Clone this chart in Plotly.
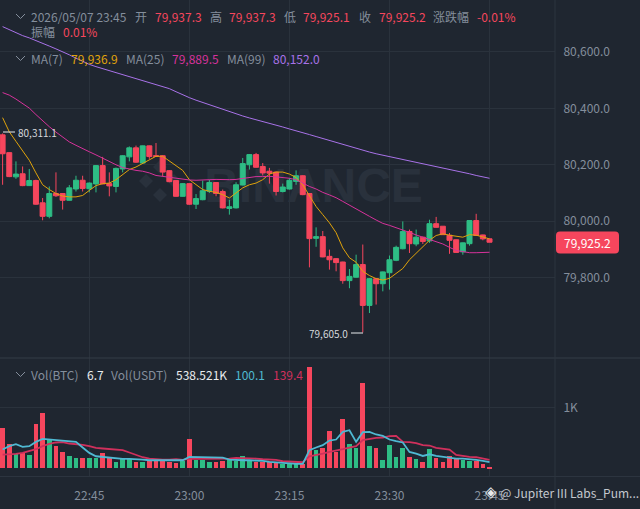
import pandas as pd
import plotly.graph_objects as go

times = pd.date_range('2026-05-07 22:32', periods=74, freq='min')

opens = [80306, 80243, 80157, 80168, 80126, 80144, 80065, 80017, 80098, 80098,
         80074, 80114, 80145, 80115, 80132, 80197, 80133, 80123, 80185, 80228,
         80260, 80206, 80267, 80232, 80232, 80179, 80144, 80088, 80133, 80060,
         80076, 80106, 80137, 80105, 80045, 80047, 80128, 80200, 80236, 80194,
         80177, 80174, 80105, 80114, 80141, 80161, 80098, 79939, 79945, 79875,
         79867, 79855, 79789, 79801, 79846, 79701, 79796, 79778, 79817, 79861,
         79902, 79963, 79919, 79943, 79930, 79991, 79982, 79950, 79934, 79891,
         79920, 80002, 79951, 79937.3]
highs = [80311.1, 80244, 80212, 80194, 80185, 80147, 80082, 80123, 80173, 80099,
         80128, 80161, 80161, 80137, 80198, 80228, 80173, 80190, 80234, 80265,
         80268, 80268, 80268, 80277, 80234, 80181, 80145, 80135, 80135, 80096,
         80144, 80147, 80138, 80112, 80076, 80138, 80224, 80238, 80242, 80206,
         80189, 80175, 80133, 80153, 80180, 80163, 80099, 79978, 79965, 79899,
         79869, 79856, 79830, 79881, 79917, 79798, 79798, 79821, 79878, 79913,
         79999, 79970, 79970, 79945, 80005, 80015, 79982, 79958, 79935, 79924,
         80003, 80026, 79952, 79937.3]
lows = [80129, 80156, 80150, 80124, 80125, 80058, 80003, 80010, 80086, 80041,
        80073, 80105, 80105, 80102, 80102, 80131, 80088, 80102, 80173, 80212,
        80207, 80205, 80221, 80229, 80159, 80138, 80087, 80087, 80058, 80043,
        80074, 80100, 80088, 80045, 80023, 80045, 80127, 80183, 80190, 80162,
        80133, 80091, 80102, 80112, 80129, 80092, 79836, 79909, 79872, 79828,
        79822, 79778, 79762, 79800, 79605, 79674, 79704, 79751, 79757, 79858,
        79900, 79887, 79911, 79919, 79923, 79977, 79951, 79884, 79888, 79881,
        79913, 79948, 79932, 79925.1]
closes = [80239, 80158, 80167, 80126, 80144, 80060, 80017, 80098, 80090, 80074,
          80118, 80145, 80116, 80135, 80197, 80132, 80125, 80187, 80232, 80260,
          80209, 80267, 80229, 80230, 80174, 80140, 80088, 80133, 80060, 80080,
          80108, 80137, 80098, 80047, 80051, 80129, 80204, 80236, 80191, 80171,
          80170, 80105, 80121, 80145, 80161, 80094, 79938, 79945, 79873, 79863,
          79853, 79789, 79804, 79846, 79701, 79796, 79778, 79820, 79863, 79907,
          79963, 79920, 79943, 79928, 79991, 79978, 79952, 79932, 79889, 79923,
          80002, 79949, 79937, 79925.2]

ma7 = [80367, 80317, 80283, 80248, 80216, 80171, 80129, 80112, 80098, 80089,
       80086, 80086, 80091, 80109, 80126, 80133, 80135, 80147, 80165, 80183,
       80192, 80204, 80218, 80230, 80230, 80213, 80194, 80180, 80147, 80129,
       80112, 80106, 80102, 80094, 80082, 80100, 80118, 80129, 80135, 80147,
       80167, 80174, 80174, 80167, 80155, 80129, 80088, 80052, 80023, 79994,
       79959, 79905, 79870, 79854, 79822, 79807, 79796, 79791, 79797, 79813,
       79832, 79863, 79885, 79909, 79932, 79949, 79955, 79950, 79946, 79943,
       79952, 79950, 79944, 79936.9]
ma25 = [80456, 80447, 80433, 80417, 80401, 80378, 80356, 80335, 80316, 80299,
        80281, 80269, 80256, 80246, 80235, 80223, 80210, 80200, 80190, 80184,
        80180, 80177, 80171, 80162, 80159, 80156, 80151, 80148, 80146, 80145,
        80145, 80147, 80148, 80147, 80147, 80148, 80151, 80155, 80158, 80158,
        80159, 80157, 80155, 80152, 80147, 80135, 80123, 80114, 80102, 80093,
        80083, 80070, 80056, 80044, 80031, 80017, 80004, 79992, 79985, 79977,
        79970, 79960, 79951, 79943, 79933, 79926, 79919, 79907, 79896, 79892,
        79888, 79888, 79889, 79889.5]
ma99 = [80690, 80679, 80668, 80658, 80650, 80641, 80631, 80621, 80611, 80601,
        80590, 80578, 80567, 80556, 80548, 80541, 80534, 80527, 80519, 80512,
        80505, 80498, 80491, 80485, 80479, 80470, 80459, 80448, 80438, 80429,
        80421, 80412, 80404, 80395, 80387, 80379, 80373, 80366, 80360, 80354,
        80348, 80341, 80334, 80327, 80321, 80314, 80307, 80300, 80293, 80286,
        80279, 80271, 80264, 80257, 80251, 80245, 80239, 80234, 80229, 80224,
        80219, 80215, 80210, 80205, 80200, 80195, 80190, 80185, 80179, 80173,
        80168, 80162, 80158, 80152]

volume = [656, 408, 243, 260, 215, 727, 904, 463, 364, 264,
          198, 177, 177, 170, 170, 253, 177, 99, 160, 160,
          104, 104, 116, 116, 116, 104, 88, 116, 479, 144,
          144, 104, 99, 121, 132, 121, 198, 121, 104, 104,
          104, 88, 66, 88, 78, 78, 1670, 309, 342, 612,
          269, 805, 408, 326, 1410, 369, 326, 144, 380, 182,
          336, 187, 160, 111, 319, 165, 99, 198, 154, 132,
          121, 121, 71, 25]
vol_ma5 = [309, 364, 397, 352, 364, 435, 484, 474, 463, 451,
           446, 435, 342, 253, 198, 187, 177, 154, 154, 154,
           154, 144, 132, 132, 132, 140, 132, 132, 187, 187,
           182, 182, 182, 177, 144, 132, 132, 132, 132, 121,
           104, 94, 83, 78, 71, 71, 298, 342, 380, 458,
           474, 600, 628, 435, 595, 600, 557, 534, 474, 446,
           425, 269, 243, 203, 231, 203, 187, 165, 160, 160,
           154, 137, 121, 100.1]
vol_ma10 = [226, 226, 236, 253, 281, 314, 364, 402, 425, 430,
            408, 402, 385, 364, 336, 326, 314, 309, 298, 260,
            215, 182, 160, 149, 144, 140, 149, 137, 160, 154,
            154, 149, 149, 154, 160, 170, 170, 160, 160, 149,
            149, 137, 116, 111, 104, 99, 198, 226, 243, 269,
            286, 314, 342, 364, 463, 484, 501, 507, 529, 534,
            435, 430, 413, 380, 375, 336, 319, 309, 220, 198,
            187, 182, 160, 139.4]

price_ticks = [79800, 80000, 80200, 80400, 80600]
time_ticks = ['2026-05-07 22:45', '2026-05-07 23:00', '2026-05-07 23:15',
              '2026-05-07 23:30', '2026-05-07 23:45']

# header rows: (x px, y px, text, colour)
GREY = '#848e9c'
RED = '#f6465d'
header = [
    (29, 16, '2026/05/07 23:45', GREY), (133, 16, '开', GREY), (153, 16, '79,937.3', RED),
    (208, 16, '高', GREY), (227, 16, '79,937.3', RED), (282, 16, '低', GREY),
    (301, 16, '79,925.1', RED), (357, 16, '收', GREY), (377, 16, '79,925.2', RED),
    (431, 16, '涨跌幅', GREY), (475, 16, '-0.01%', RED),
    (29, 32, '振幅', GREY), (61, 32, '0.01%', RED),
    (29, 58, 'MA(7)', GREY), (69, 58, '79,936.9', '#e0a30b'),
    (124, 58, 'MA(25)', GREY), (170, 58, '79,889.5', '#d6329b'),
    (225, 58, 'MA(99)', GREY), (271, 58, '80,152.0', '#a872e8'),
    (29, 374, 'Vol(BTC)', GREY), (85, 374, '6.7', '#eaecef'),
    (109, 374, 'Vol(USDT)', GREY), (174, 374, '538.521K', '#eaecef'),
    (233, 374, '100.1', '#4fb9d2'), (271, 374, '139.4', '#d0305c'),
    (498, 493, '@ Jupiter III Labs_Pum...', '#c4c8ce'),
]

BG = '#1f2630'
GRID = '#2a323c'
FONT = 'Noto Sans CJK SC, Noto Sans'
PLOT_W = 555
PLOT_H = 477
PANE = 358


def xp(px):
    return px / PLOT_W


def yp(py):
    return (PLOT_H - py) / PLOT_H


def chart_line(x0, y0, x1, y1, color, width=1, layer='above'):
    return dict(type='line', xref='paper', yref='paper', x0=xp(x0), x1=xp(x1), y0=yp(y0), y1=yp(y1),
                line=dict(color=color, width=width), layer=layer)


def chevron(cy):
    path = 'M {} {} L {} {} L {} {}'.format(xp(16), yp(cy - 2), xp(20.5), yp(cy + 2.5), xp(25), yp(cy - 2))
    return dict(type='path', xref='paper', yref='paper', path=path, line=dict(color=GREY, width=1))


def rounded_box(x0, y0, x1, y1, r):
    x_r = r / PLOT_W
    y_r = r / PLOT_H
    left, right, top, bottom = xp(x0), xp(x1), yp(y0), yp(y1)
    return ('M {l} {t2} Q {l} {t} {l2} {t} L {r2} {t} Q {r} {t} {r} {t2} '
            'L {r} {b2} Q {r} {b} {r2} {b} L {l2} {b} Q {l} {b} {l} {b2} Z').format(
        l=left, r=right, t=top, b=bottom, l2=left + x_r, r2=right - x_r, t2=top - y_r, b2=bottom + y_r)


def diamond(cx, cy, size):
    return dict(type='path', xref='paper', yref='paper', layer='below', line=dict(width=0), fillcolor='#29313c',
                path='M {} {} L {} {} L {} {} L {} {} Z'.format(
                    xp(cx), yp(cy - size), xp(cx + size), yp(cy), xp(cx), yp(cy + size), xp(cx - size), yp(cy)))


bar_colors = ['#2ebd85' if c >= o else RED for o, c in zip(opens, closes)]

fig = go.Figure()

fig.add_trace(go.Candlestick(
    x=times, open=opens, high=highs, low=lows, close=closes,
    increasing=dict(line=dict(color='#2ebd85', width=1), fillcolor='#2ebd85'),
    decreasing=dict(line=dict(color=RED, width=1), fillcolor=RED),
    whiskerwidth=0, showlegend=False, yaxis='y'))
for values, color in [(ma7, '#e0a30b'), (ma25, '#d6329b'), (ma99, '#a872e8')]:
    fig.add_trace(go.Scatter(x=times, y=values, mode='lines', line=dict(color=color, width=1),
                             showlegend=False, yaxis='y'))

fig.add_trace(go.Bar(x=times, y=volume, marker=dict(color=bar_colors, line=dict(width=0)),
                     width=42000, showlegend=False, yaxis='y2'))
for values, color in [(vol_ma10, '#d0305c'), (vol_ma5, '#4fb9d2')]:
    fig.add_trace(go.Scatter(x=times, y=values, mode='lines', line=dict(color=color, width=1.8),
                             showlegend=False, yaxis='y2'))

annotations = []
for x, y, text, color in header:
    annotations.append(dict(xref='paper', yref='paper', x=xp(x), y=yp(y), text=text, showarrow=False,
                            xanchor='left', yanchor='middle', font=dict(family=FONT, size=12, color=color)))
annotations += [
    dict(xref='paper', yref='paper', x=xp(16), y=yp(132), text='80,311.1', showarrow=False, xanchor='left',
         yanchor='middle', font=dict(family=FONT, size=10, color='#d5d8dc')),
    dict(xref='paper', yref='paper', x=xp(350), y=yp(333), text='79,605.0', showarrow=False, xanchor='right',
         yanchor='middle', font=dict(family=FONT, size=10, color='#d5d8dc')),
    dict(xref='paper', yref='paper', x=xp(587), y=yp(242.5), text='79,925.2', showarrow=False, xanchor='center',
         yanchor='middle', font=dict(family=FONT, size=12, color='#ffffff')),
    dict(xref='paper', yref='paper', x=xp(491), y=yp(492), text='◈', showarrow=False, xanchor='center',
         yanchor='middle', font=dict(family='DejaVu Sans', size=15, color='#e8eaec')),
]

shapes = [
    chart_line(0, PANE, 640, PANE, '#343c47'),
    chart_line(0, 476.5, 640, 476.5, '#2c343f'),
    chart_line(555, 0, 555, 509, '#2c343f'),
    chart_line(3, 132, 15, 132, '#e8eaec'),
    chart_line(351, 333, 363, 333, '#e8eaec'),
    chevron(16), chevron(58), chevron(374),
    dict(type='path', xref='paper', yref='paper', path=rounded_box(556, 231.5, 619, 253.5, 4),
         fillcolor=RED, line=dict(width=0)),
    # faint watermark under the candles
    dict(type='rect', xref='paper', yref='paper', layer='below', x0=xp(195), x1=xp(432), y0=yp(205), y1=yp(155),
         line=dict(width=0), fillcolor='rgba(0,0,0,0)',
         label=dict(text='BINANCE', font=dict(family='Liberation Sans', size=48, color='#29313c', weight=700),
                    textposition='middle center')),
    diamond(160, 167, 7), diamond(146, 181, 7), diamond(174, 181, 7), diamond(160, 195, 7),
]

fig.update_layout(
    width=640, height=509,
    margin=dict(l=0, r=85, t=0, b=32, autoexpand=False),
    paper_bgcolor=BG, plot_bgcolor=BG,
    font=dict(family=FONT, size=12, color=GREY),
    boxgap=0.25, boxgroupgap=0,
    bargap=0,
    hovermode=False,
    annotations=annotations,
    shapes=shapes,
    xaxis=dict(
        anchor='y2',
        type='date',
        range=['2026-05-07 22:31:36.6', '2026-05-07 23:54:49'],
        rangeslider=dict(visible=False),
        tickvals=time_ticks,
        tickformat='%H:%M',
        showgrid=True, gridcolor=GRID, gridwidth=1,
        showline=False, zeroline=False,
        ticks='outside', ticklen=8, tickcolor=BG,
        tickfont=dict(family=FONT, size=12, color=GREY),
    ),
    yaxis=dict(
        domain=[(PLOT_H - PANE) / PLOT_H, 1],
        side='right',
        range=[79514.5, 80784.4],
        tickvals=price_ticks,
        tickformat=',.1f',
        showgrid=True, gridcolor=GRID, gridwidth=1,
        zeroline=False, showline=False,
        ticks='outside', ticklen=5, tickcolor=BG,
        tickfont=dict(family=FONT, size=12, color=GREY),
    ),
    yaxis2=dict(
        domain=[0, (PLOT_H - PANE) / PLOT_H],
        side='right',
        range=[-144, 1818],
        tickvals=[1000],
        ticktext=['1K'],
        showgrid=True, gridcolor=GRID, gridwidth=1,
        zeroline=False, showline=False,
        ticks='outside', ticklen=5, tickcolor=BG,
        tickfont=dict(family=FONT, size=12, color=GREY),
    ),
)

fig.write_html("out.html", config=dict(displayModeBar=False), post_script="document.body.style.margin='0';")
